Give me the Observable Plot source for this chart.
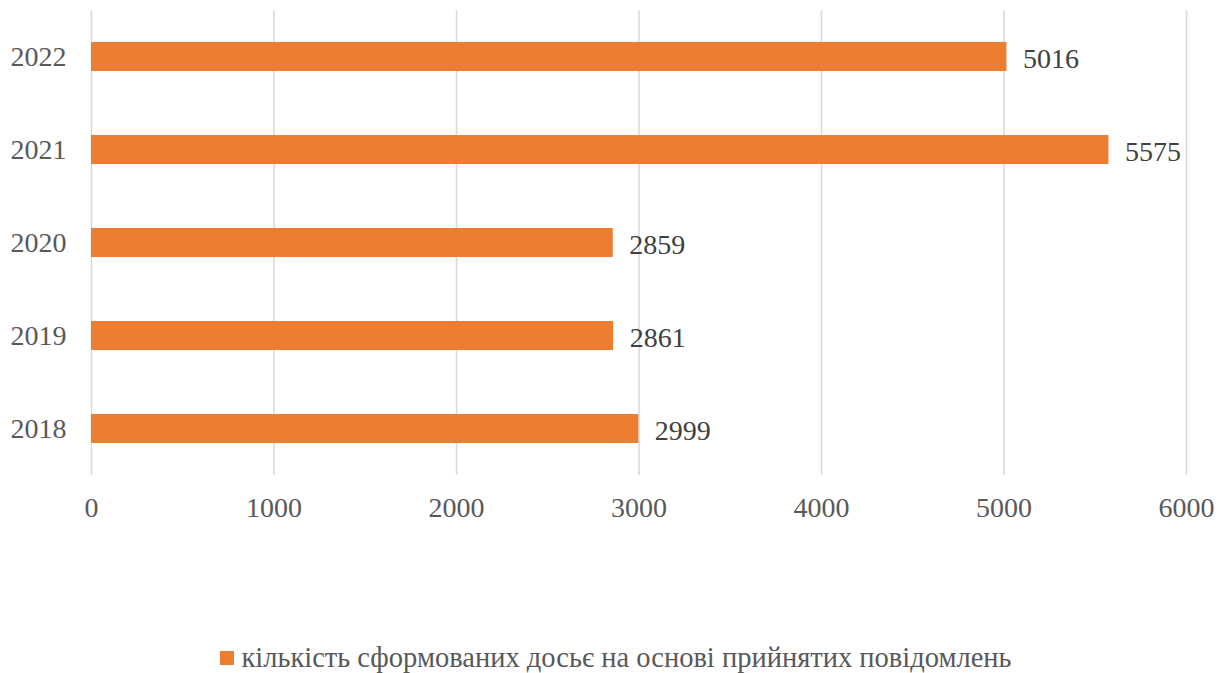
<!DOCTYPE html>
<html>
<head>
<meta charset="utf-8">
<script src="https://cdn.jsdelivr.net/npm/d3@7"></script>
<script src="https://cdn.jsdelivr.net/npm/@observablehq/plot@0.6"></script>
</head>
<body style="margin:0;background:#fff;font-family:'Liberation Serif'">
<div id="chart"></div>
<div id="legend" style="display:flex;justify-content:center;align-items:center;margin-top:102px;font-size:28.5px;color:#595959;font-family:'Liberation Serif'"><span style="display:inline-block;width:14px;height:14px;background:#ED7D31;margin-right:7px"></span><span id="legendText" style="font-family:'Liberation Serif'"></span></div>
<script>
const years = ["2022", "2021", "2020", "2019", "2018"];
const values = [5016, 5575, 2859, 2861, 2999];
const xTicks = [0, 1000, 2000, 3000, 4000, 5000, 6000];
const seriesName = "кількість сформованих досьє на основі прийнятих повідомлень";
const barColor = "#ED7D31";
const FONT = "Liberation Serif";

document.getElementById("legendText").textContent = seriesName;

const data = years.map((y, i) => ({year: y, value: values[i]}));
const fmt = d => String(d);

const plot = Plot.plot({
  width: 1232,
  height: 540,
  marginLeft: 91,
  marginRight: 46,
  marginTop: 10,
  marginBottom: 65,
  style: {fontFamily: FONT, fontSize: "28px", background: "#fff"},
  x: {domain: [0, 6000], label: null},
  y: {domain: years, paddingInner: 0.688, paddingOuter: 0.344, label: null},
  marks: [
    Plot.ruleX(xTicks, {stroke: "#d9d9d9", strokeWidth: 1.5, strokeOpacity: 1}),
    Plot.barX(data, {x: "value", y: "year", fill: barColor}),
    Plot.text(data, {x: "value", y: "year", text: d => fmt(d.value), dx: 16, dy: 2, textAnchor: "start", fill: "#404040", fontSize: 28, fontFamily: FONT}),
    Plot.axisX({ticks: xTicks, tickFormat: fmt, tickSize: 0, tickPadding: 22, color: "#595959", fontSize: 28, fontFamily: FONT, label: null}),
    Plot.axisY({tickSize: 0, tickPadding: 25, color: "#595959", fontSize: 28, fontFamily: FONT, label: null})
  ]
});
document.getElementById("chart").appendChild(plot);
</script>
</body>
</html>
